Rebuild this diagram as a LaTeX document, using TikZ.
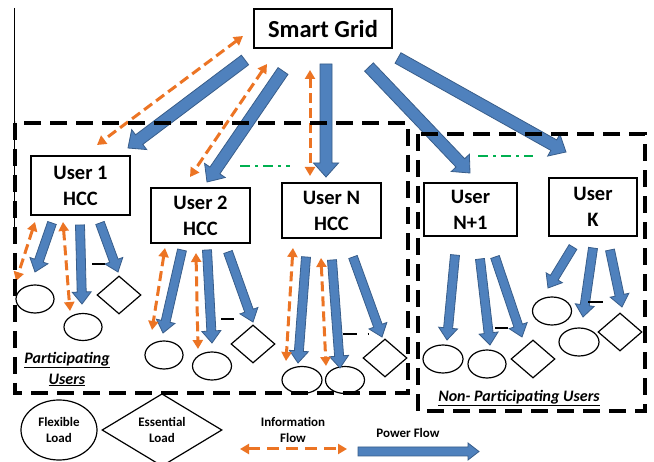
\documentclass[tikz,border=0pt]{standalone}
\usepackage{fontspec}
\setmainfont{Carlito}
\usetikzlibrary{arrows.meta,calc,shapes.geometric}
\definecolor{pblue}{HTML}{4F81BD}
\definecolor{pblueD}{HTML}{385D8A}
\definecolor{iorange}{HTML}{EC7424}
\definecolor{lgreen}{HTML}{00B050}
\tikzset{
  userbox/.style={draw, line width=1.6pt, align=center, inner sep=0pt,
    font=\bfseries\fontsize{20.5pt}{26pt}\selectfont},
  gridbox/.style={draw, line width=1.8pt, align=center, inner sep=0pt,
    font=\bfseries\fontsize{24.5pt}{26pt}\selectfont},
  flexload/.style={ellipse, draw, line width=1.2pt, inner sep=0pt},
  essload/.style={diamond, draw, line width=1.2pt, inner sep=0pt},
  powerarrow/.style={fill=pblue, draw=pblueD, line width=0.8pt, line join=miter},
  info/.style={draw=iorange, line width=3pt, dash pattern=on 10pt off 5pt,
    {Triangle[length=9pt,width=10pt]}-{Triangle[length=9pt,width=10pt]}},
  groupbox/.style={draw, line width=3.6pt, dash pattern=on 17pt off 9pt},
  linkline/.style={draw=lgreen, line width=2pt, dash pattern=on 10pt off 5pt on 3pt off 5pt},
  tick/.style={draw, line width=2.2pt},
  grouplabel/.style={font=\bfseries\itshape\fontsize{16pt}{18pt}\selectfont},
  legendtext/.style={font=\bfseries\fontsize{13pt}{16pt}\selectfont, align=center}
}
\newcommand\blockarrow[5]{%
  \coordinate (ba-h) at ($(#2)!#5!(#1)$);
  \filldraw[powerarrow] ($(#1)!#3!90:(#2)$) -- ($(ba-h)!#3!90:(#2)$) -- ($(ba-h)!#4!90:(#2)$) -- (#2)
    -- ($(ba-h)!#4!-90:(#2)$) -- ($(ba-h)!#3!-90:(#2)$) -- ($(#1)!#3!-90:(#2)$) -- cycle;
}
\newcommand\bigarrow[2]{\blockarrow{#1}{#2}{6pt}{12.5pt}{14pt}}
\newcommand\smallarrow[2]{\blockarrow{#1}{#2}{4.5pt}{9.5pt}{12pt}}
\begin{document}
\begin{tikzpicture}[x=1pt,y=-1pt]
\useasboundingbox (0,0) rectangle (654,462);
\fill[white] (0,0) rectangle (654,462);

% thin left line
\coordinate (lt) at (14,8);
\coordinate (lb) at (14,233);
\draw[line width=1pt] (lt) -- (lb);

% main nodes
\node[gridbox, minimum width=138pt, minimum height=39pt] (sg) at (323,28.5) {Smart Grid};
\node[userbox, minimum width=99pt, minimum height=59pt] (u1) at (80.5,185.5) {User 1\\HCC};
\node[userbox, minimum width=99pt, minimum height=55pt] (u2) at (200.5,215.5) {User 2\\HCC};
\node[userbox, minimum width=99pt, minimum height=55pt] (uN) at (331.5,210.5) {User N\\HCC};
\node[userbox, minimum width=93pt, minimum height=53pt] (uN1) at (470.5,209.5) {User\\N+1};
\node[userbox, minimum width=88pt, minimum height=58pt] (uK) at (593,207) {User\\K};

% loads
\node[flexload, minimum width=38pt, minimum height=28pt] (f11) at (35,299) {};
\node[flexload, minimum width=38pt, minimum height=27pt] (f12) at (83,327) {};
\node[essload, minimum width=44pt, minimum height=38pt] (e1) at (119,295) {};
\node[flexload, minimum width=38pt, minimum height=28pt] (f21) at (164,355) {};
\node[flexload, minimum width=39pt, minimum height=28pt] (f22) at (212,366) {};
\node[essload, minimum width=44pt, minimum height=38pt] (e2) at (253,344) {};
\node[flexload, minimum width=40pt, minimum height=27pt] (fN1) at (302,380) {};
\node[flexload, minimum width=39pt, minimum height=27pt] (fN2) at (345,380) {};
\node[essload, minimum width=44pt, minimum height=38pt] (eN) at (385,358) {};
\node[flexload, minimum width=40pt, minimum height=28pt] (fM1) at (443,359) {};
\node[flexload, minimum width=38pt, minimum height=28pt] (fM2) at (487,364) {};
\node[essload, minimum width=44pt, minimum height=38pt] (eM) at (533,359) {};
\node[flexload, minimum width=39pt, minimum height=28pt] (fK1) at (552,311) {};
\node[flexload, minimum width=40pt, minimum height=28pt] (fK2) at (579,342) {};
\node[essload, minimum width=44pt, minimum height=38pt] (eK) at (620,332) {};

% power arrow end points
\coordinate (p1t) at (245,60);  \coordinate (p1h) at (128,148);
\coordinate (p2t) at (283,71);  \coordinate (p2h) at (207,182);
\coordinate (p3t) at (326,64);  \coordinate (p3h) at (326,177);
\coordinate (p4t) at (369,67);  \coordinate (p4h) at (470,173);
\coordinate (p5t) at (398,58);  \coordinate (p5h) at (566,152);
\bigarrow{p1t}{p1h}
\bigarrow{p2t}{p2h}
\bigarrow{p3t}{p3h}
\bigarrow{p4t}{p4h}
\bigarrow{p5t}{p5h}

\coordinate (a11t) at (52,223);  \coordinate (a11h) at (35,272);
\coordinate (a12t) at (80,225);  \coordinate (a12h) at (82,304);
\coordinate (a13t) at (100,223); \coordinate (a13h) at (118,272);
\coordinate (a21t) at (182,250); \coordinate (a21h) at (163,333);
\coordinate (a22t) at (207,250); \coordinate (a22h) at (212,343);
\coordinate (a23t) at (228,252); \coordinate (a23h) at (253,322);
\coordinate (aN1t) at (306,257); \coordinate (aN1h) at (298,363);
\coordinate (aN2t) at (332,260); \coordinate (aN2h) at (340,368);
\coordinate (aN3t) at (353,257); \coordinate (aN3h) at (382,337);
\coordinate (aM1t) at (455,255); \coordinate (aM1h) at (447,340);
\coordinate (aM2t) at (480,259); \coordinate (aM2h) at (490,345);
\coordinate (aM3t) at (495,257); \coordinate (aM3h) at (522,337);
\coordinate (aK1t) at (573,247); \coordinate (aK1h) at (548,288);
\coordinate (aK2t) at (593,248); \coordinate (aK2h) at (583,317);
\coordinate (aK3t) at (610,250); \coordinate (aK3h) at (622,307);
\smallarrow{a11t}{a11h}
\smallarrow{a12t}{a12h}
\smallarrow{a13t}{a13h}
\smallarrow{a21t}{a21h}
\smallarrow{a22t}{a22h}
\smallarrow{a23t}{a23h}
\smallarrow{aN1t}{aN1h}
\smallarrow{aN2t}{aN2h}
\smallarrow{aN3t}{aN3h}
\smallarrow{aM1t}{aM1h}
\smallarrow{aM2t}{aM2h}
\smallarrow{aM3t}{aM3h}
\smallarrow{aK1t}{aK1h}
\smallarrow{aK2t}{aK2h}
\smallarrow{aK3t}{aK3h}

% information flow
\coordinate (i1a) at (243,36);  \coordinate (i1b) at (97,145);
\coordinate (i2a) at (267,64);  \coordinate (i2b) at (190,177);
\coordinate (i3a) at (310,70);  \coordinate (i3b) at (310,176);
\coordinate (i4a) at (35,222);  \coordinate (i4b) at (16,281);
\coordinate (i5a) at (63,222);  \coordinate (i5b) at (70,311);
\coordinate (i6a) at (165,248); \coordinate (i6b) at (152,330);
\coordinate (i7a) at (196,253); \coordinate (i7b) at (198,349);
\coordinate (i8a) at (293,248); \coordinate (i8b) at (286,361);
\coordinate (i9a) at (321,258); \coordinate (i9b) at (326,366);
\foreach \k in {1,...,9} {\draw[info] (i\k a) -- (i\k b);}

% green links
\coordinate (g1a) at (240,166); \coordinate (g1b) at (290,166);
\coordinate (g2a) at (478,156); \coordinate (g2b) at (533,156);
\draw[linkline] (g1a) -- (g1b);
\draw[linkline] (g2a) -- (g2b);

% small black ticks
\draw[tick] (92,264) -- (105,264);
\draw[tick] (221,319) -- (234,319);
\draw[tick] (343,334) -- (357,334);
\draw[line width=2pt] (367.5,334) -- (369,334);
\draw[tick] (495,328) -- (508,328);
\draw[tick] (588,302) -- (603,302);

% group boxes
\coordinate (pb1) at (15,123); \coordinate (pb2) at (408,393);
\coordinate (nb1) at (418,134); \coordinate (nb2) at (645,411);
\draw[groupbox] (pb1) rectangle (pb2);
\draw[groupbox] (nb1) rectangle (nb2);

\node[grouplabel] (pl1) at (67,360) {\underline{Participating}};
\node[grouplabel] (pl2) at (67,380) {\underline{Users}};
\node[grouplabel] (nl) at (519,398) {\underline{Non- Participating Users}};

% legend
\node[flexload, minimum width=76pt, minimum height=60pt, legendtext] (lf) at (59,430) {Flexible\\Load};
\node[essload, minimum width=120pt, minimum height=60pt, legendtext] (le) at (162,430) {Essential\\Load};
\node[legendtext] (li) at (293,430) {Information\\Flow};
\node[legendtext] (lp) at (408,433) {Power Flow};
\coordinate (lia) at (240,449); \coordinate (lib) at (347,449);
\draw[info, dash pattern=on 12pt off 7pt] (lia) -- (lib);
\coordinate (lpa) at (358,451.5); \coordinate (lpb) at (479,451.5);
\blockarrow{lpa}{lpb}{4.5pt}{8.5pt}{11pt}
\end{tikzpicture}
\end{document}
